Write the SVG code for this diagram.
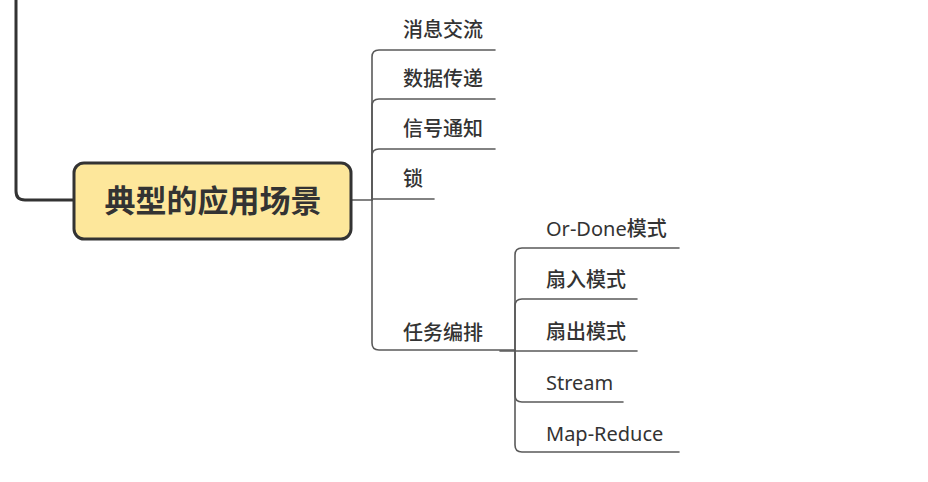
<svg xmlns="http://www.w3.org/2000/svg" width="928" height="482" viewBox="0 0 928 482">
<style>
.bg{fill:#ffffff}
.ln{fill:none;stroke:#5a5a5a;stroke-width:1.6;stroke-linecap:round}
.lnp{fill:none;stroke:#333333;stroke-width:3}
.node{fill:#fde79b;stroke:#333333;stroke-width:3}
.t{font-family:"Noto Sans","Noto Sans CJK SC",sans-serif;font-size:20px;font-weight:500;fill:#333333}
.lat{font-weight:400}
.title{font-family:"Noto Sans CJK SC","Noto Sans",sans-serif;font-size:31px;font-weight:700;fill:#333333}
</style>
<rect class="bg" x="0" y="0" width="928" height="482"/>
<g id="connectors">
<path class="lnp" d="M16,-4 V191 Q16,200 25,200 H74"/>
<path class="ln" d="M350,200 H372"/>
<path class="ln" d="M372,200 V57 Q372,50 379,50 H495"/>
<path class="ln" d="M372,200 V106 Q372,99 379,99 H495"/>
<path class="ln" d="M372,200 V156 Q372,149 379,149 H495"/>
<path class="ln" d="M372,199 H434"/>
<path class="ln" d="M372,200 V343 Q372,350 379,350 H515"/>
<path class="ln" d="M515,350 V255 Q515,248 522,248 H679"/>
<path class="ln" d="M515,350 V306 Q515,299 522,299 H637"/>
<path class="ln" d="M500,351 H637"/>
<path class="ln" d="M515,350 V395 Q515,402 522,402 H623"/>
<path class="ln" d="M515,350 V445 Q515,452 522,452 H679"/>
</g>
<g id="root">
<rect class="node" x="74" y="163" width="277" height="76" rx="10" ry="10"/>
<text class="title" x="213" y="212" text-anchor="middle">典型的应用场景</text>
</g>
<g id="n1"><text class="t" x="403" y="37">消息交流</text></g>
<g id="n2"><text class="t" x="403" y="86">数据传递</text></g>
<g id="n3"><text class="t" x="403" y="136">信号通知</text></g>
<g id="n4"><text class="t" x="403" y="186">锁</text></g>
<g id="n5"><text class="t" x="403" y="340">任务编排</text></g>
<g id="n51"><text class="t" x="546" y="236"><tspan class="lat">Or-Done</tspan>模式</text></g>
<g id="n52"><text class="t" x="546" y="287">扇入模式</text></g>
<g id="n53"><text class="t" x="546" y="339">扇出模式</text></g>
<g id="n54"><text class="t lat" x="546" y="390">Stream</text></g>
<g id="n55"><text class="t lat" x="546" y="441">Map-Reduce</text></g>
</svg>
